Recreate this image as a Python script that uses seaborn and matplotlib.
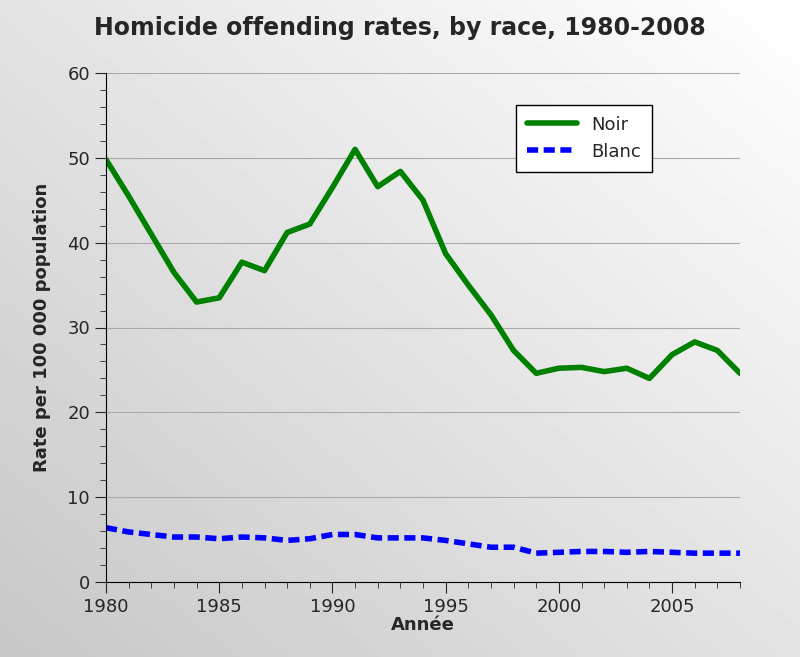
import numpy as np
import pandas as pd
import matplotlib
matplotlib.use("Agg")
from matplotlib import pyplot as plt
from matplotlib.ticker import MultipleLocator
import seaborn as sns

years = list(range(1980, 2009))
noir = [49.8, 45.5, 41.0, 36.5, 33.0, 33.5, 37.7, 36.7, 41.2, 42.2, 46.5, 51.0, 46.6, 48.4, 45.0,
        38.7, 35.0, 31.5, 27.3, 24.6, 25.2, 25.3, 24.8, 25.2, 24.0, 26.8, 28.3, 27.3, 24.6]
blanc = [6.4, 5.9, 5.6, 5.3, 5.3, 5.1, 5.3, 5.2, 4.9, 5.1, 5.6, 5.6, 5.2, 5.2, 5.2,
         4.9, 4.5, 4.1, 4.1, 3.4, 3.5, 3.6, 3.6, 3.5, 3.6, 3.5, 3.4, 3.4, 3.4]

df = pd.DataFrame({"year": years, "Noir": noir, "Blanc": blanc})

sns.set_style("white")
plt.rcParams["font.family"] = ["DejaVu Sans"]

fig = plt.figure(figsize=(8, 6.57), dpi=100)

# gradient background
bg = fig.add_axes([0, 0, 1, 1], zorder=-10)
gx, gy = np.meshgrid(np.linspace(0, 1, 200), np.linspace(0, 1, 200))
grad = 0.78 + 0.22 * np.clip((gx + (1 - gy)) / 2, 0, 1)
bg.imshow(grad, cmap="gray", vmin=0, vmax=1, aspect="auto", extent=[0, 1, 0, 1], origin="upper")
bg.axis("off")

ax = fig.add_axes([106 / 800, 1 - 582 / 657, 634 / 800, 509 / 657])
ax.patch.set_alpha(0)
sns.lineplot(data=df, x="year", y="Noir", ax=ax, color="green", lw=4, label="Noir")
sns.lineplot(data=df, x="year", y="Blanc", ax=ax, color="blue", lw=4, ls=(0, (2, 1)), label="Blanc")

ax.set_xlim(1980, 2008)
ax.set_ylim(0, 60)
ax.set_xticks([1980, 1985, 1990, 1995, 2000, 2005])
ax.set_yticks(range(0, 61, 10))
ax.xaxis.set_minor_locator(MultipleLocator(1))
ax.yaxis.set_minor_locator(MultipleLocator(2))
ax.tick_params(which="major", direction="out", length=8, labelsize=13, left=True, bottom=True)
ax.tick_params(which="minor", direction="out", length=4, left=True, bottom=True)
ax.yaxis.grid(True, color="#aaaaaa", lw=0.8)
for s in ["top", "right"]:
    ax.spines[s].set_visible(False)
for s in ["left", "bottom"]:
    ax.spines[s].set_color("black")

ax.set_xlabel("Année", fontsize=13, fontweight="bold", labelpad=0)
ax.set_ylabel("Rate per 100 000 population", fontsize=13, fontweight="bold", labelpad=12)
fig.suptitle("Homicide offending rates, by race, 1980-2008", fontsize=17, fontweight="bold", y=0.975)

leg = ax.legend(loc="upper left", bbox_to_anchor=(0.632, 0.955), fontsize=13, frameon=True,
                fancybox=False, handlelength=2.8, borderpad=0.6)
leg.get_frame().set_edgecolor("black")
leg.get_frame().set_facecolor("white")
leg.get_frame().set_alpha(1)

fig.savefig("out.png", dpi=100)
